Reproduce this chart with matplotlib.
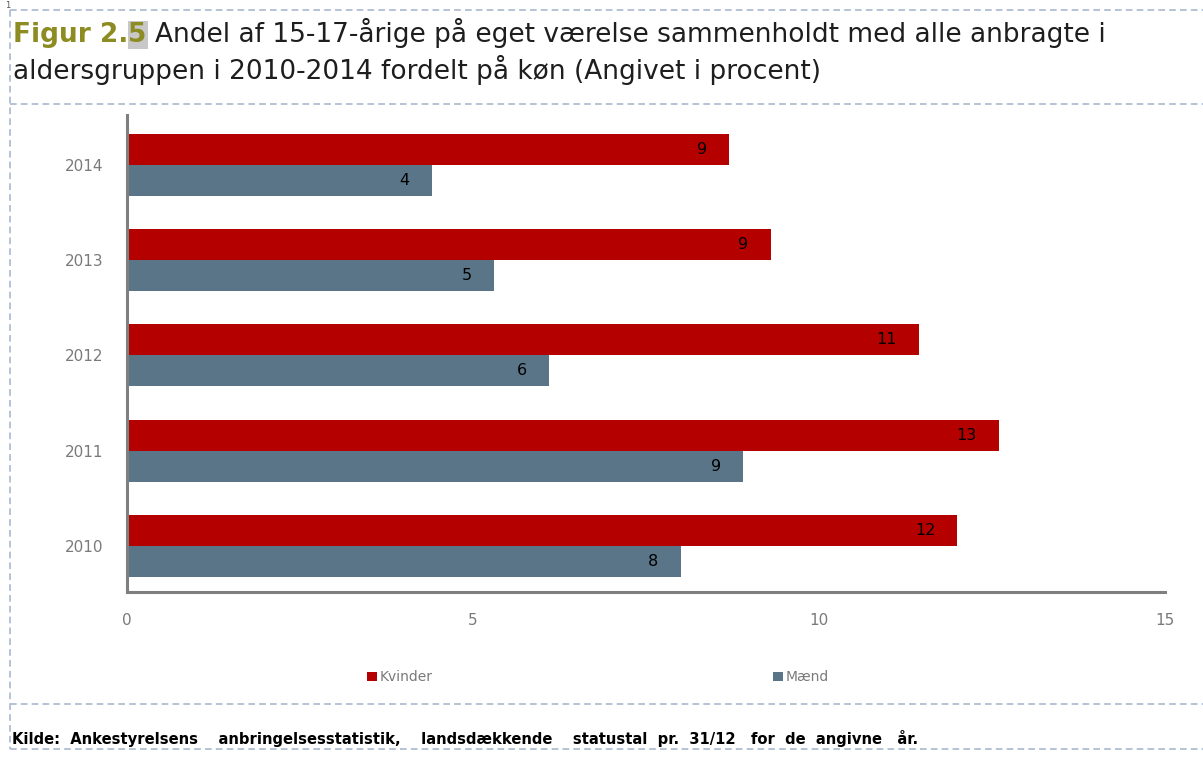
import matplotlib.pyplot as plt
from matplotlib.lines import Line2D
import numpy as np

years = ['2010', '2011', '2012', '2013', '2014']
kvinder = [12.0, 12.6, 11.45, 9.3, 8.7]
maend = [8.0, 8.9, 6.1, 5.3, 4.4]
kvinder_lbl = ['12', '13', '11', '9', '9']
maend_lbl = ['8', '9', '6', '5', '4']
xticks = [0, 5, 10, 15]

red = '#B50000'
slate = '#5A7587'
dash_col = '#A9B9CD'

fig = plt.figure(figsize=(12.03, 7.62), dpi=100)
ax = fig.add_axes([0.1056, 0.2231, 0.8628, 0.6259])

y = np.arange(len(years))
h = 0.325
b1 = ax.barh(y + h / 2, kvinder, height=h, color=red, label='Kvinder')
b2 = ax.barh(y - h / 2, maend, height=h, color=slate, label='Mænd')

for bars, labs in ((b1, kvinder_lbl), (b2, maend_lbl)):
    for rect, s in zip(bars, labs):
        ax.annotate(s, (rect.get_width(), rect.get_y() + rect.get_height() / 2),
                    xytext=(-16, 0), textcoords='offset points', ha='right', va='center',
                    fontsize=11.5, color='black')

ax.set_xlim(0, 15)
ax.set_ylim(-0.48, 4.52)
ax.set_xticks(xticks)
ax.set_xticklabels([str(t) for t in xticks])
ax.set_yticks(y)
ax.set_yticklabels(years)
ax.tick_params(length=0, labelsize=11, labelcolor='#7A7A7A')
ax.tick_params(axis='y', pad=17)
ax.tick_params(axis='x', pad=15)
for s in ('top', 'right'):
    ax.spines[s].set_visible(False)
for s in ('left', 'bottom'):
    ax.spines[s].set_color('#7F7F7F')
    ax.spines[s].set_linewidth(2.2)

leg = fig.legend(handles=[b1, b2], labels=['Kvinder', 'Mænd'], loc='center',
                 bbox_to_anchor=(0.497, 0.111), ncol=2, frameon=False,
                 handlelength=0.7, handleheight=0.7, handletextpad=0.2,
                 columnspacing=24.5, fontsize=10)
for t in leg.get_texts():
    t.set_color('#7A7A7A')

# dashed frame lines
def hline(yp, x0=10, x1=1203):
    fig.add_artist(Line2D([x0 / 1203, x1 / 1203], [1 - yp / 762] * 2,
                          color=dash_col, lw=1.2, ls=(0, (4, 2.5))))

for yp in (10, 104, 704, 749):
    hline(yp)
fig.add_artist(Line2D([10 / 1203] * 2, [1 - 10 / 762, 1 - 749 / 762],
                      color=dash_col, lw=1.2, ls=(0, (4, 2.5))))

fig.text(5 / 1203, 1 - 6 / 762, '1', fontsize=6, color='#555555', va='center')

# title in pieces
fig.canvas.draw()
r = fig.canvas.get_renderer()
tsize = 19
t1 = fig.text(13 / 1203, 1 - 42 / 762, 'Figur 2.', fontsize=tsize, fontweight='bold',
              color='#8C8C22', va='baseline')
x = t1.get_window_extent(r).x1
t2 = fig.text(x / 1203, 1 - 42 / 762, '5', fontsize=tsize, fontweight='bold',
              color='#8C8C22', va='baseline',
              bbox=dict(facecolor='#C8C8C8', edgecolor='none', pad=0.5))
x = t2.get_window_extent(r).x1 + 8
fig.text(x / 1203, 1 - 42 / 762,
         'Andel af 15-17-årige på eget værelse sammenholdt med alle anbragte i',
         fontsize=tsize, color='#1E1E1E', va='baseline')
fig.text(13 / 1203, 1 - 79 / 762,
         'aldersgruppen i 2010-2014 fordelt på køn (Angivet i procent)',
         fontsize=tsize, color='#1E1E1E', va='baseline')

fig.text(12 / 1203, 1 - 744 / 762,
         'Kilde:  Ankestyrelsens    anbringelsesstatistik,    landsdækkende    statustal  pr.  31/12   for  de  angivne   år.',
         fontsize=10.6, color='black', va='baseline', fontweight='bold')

fig.savefig('out.png', dpi=100)
